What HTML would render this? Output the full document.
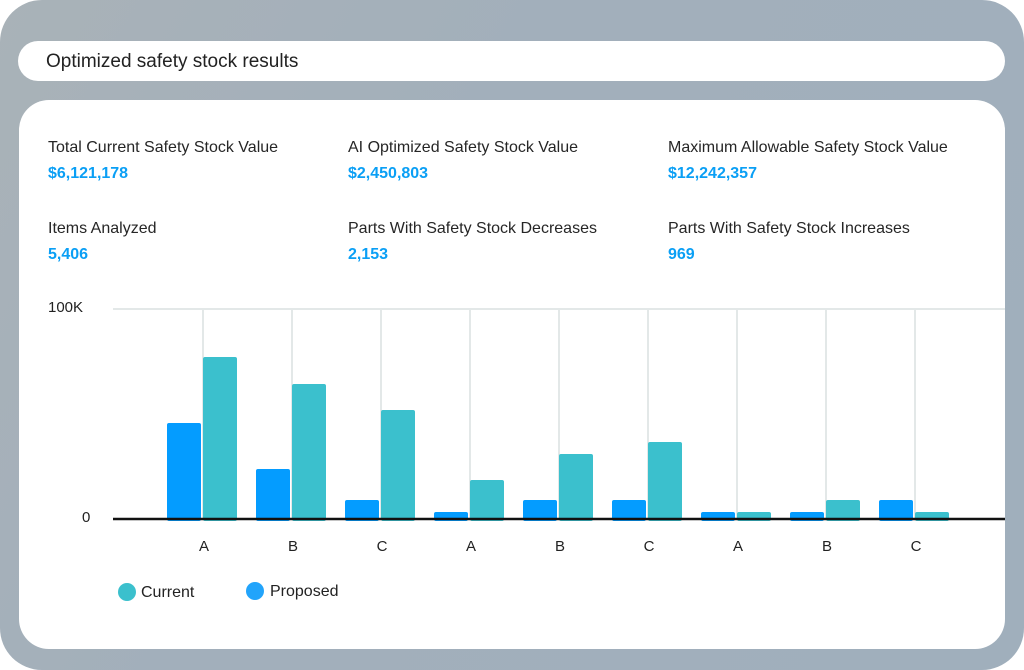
<!DOCTYPE html>
<html><head><meta charset="utf-8"><style>
html,body{margin:0;padding:0;width:1024px;height:670px;background:#fff;overflow:hidden;font-family:"Liberation Sans",sans-serif}
.frame{position:absolute;left:0;top:0;width:1024px;height:670px;border-radius:42px;background:linear-gradient(120deg,#a9b2b8 0%,#a2afbb 40%,#a0afbc 100%)}
.title{position:absolute;left:18px;top:41px;width:987px;height:40px;background:#fff;border-radius:20px}
.title span{position:absolute;left:28px;top:10px;font-size:19px;color:#222}
.panel{position:absolute;left:19px;top:100px;width:986px;height:549px;background:#fff;border-radius:30px}
.lab{position:absolute;font-size:16px;color:#262626}
.val{position:absolute;font-size:16px;font-weight:bold;color:#0a9ff5}
</style></head><body>
<div class="frame"></div>
<div class="title"><span>Optimized safety stock results</span></div>
<div class="panel"></div>
<div class="lab" style="left:48px;top:139px">Total Current Safety Stock Value</div>
<div class="val" style="left:48px;top:165px">$6,121,178</div>
<div class="lab" style="left:348px;top:139px">AI Optimized Safety Stock Value</div>
<div class="val" style="left:348px;top:165px">$2,450,803</div>
<div class="lab" style="left:668px;top:139px">Maximum Allowable Safety Stock Value</div>
<div class="val" style="left:668px;top:165px">$12,242,357</div>
<div class="lab" style="left:48px;top:220px">Items Analyzed</div>
<div class="val" style="left:48px;top:246px">5,406</div>
<div class="lab" style="left:348px;top:220px">Parts With Safety Stock Decreases</div>
<div class="val" style="left:348px;top:246px">2,153</div>
<div class="lab" style="left:668px;top:220px">Parts With Safety Stock Increases</div>
<div class="val" style="left:668px;top:246px">969</div>
<svg style="position:absolute;left:0;top:0" width="1024" height="670">
<g font-family="Liberation Sans, sans-serif" font-size="15" fill="#222">
<text x="48" y="312">100K</text><text x="82" y="522">0</text>
</g>
<line x1="113" y1="309" x2="1005" y2="309" stroke="#e3e8e8" stroke-width="2"/>
<g stroke="#e3e8e8" stroke-width="2">
<line x1="203" y1="309" x2="203" y2="518"/><line x1="292" y1="309" x2="292" y2="518"/><line x1="381" y1="309" x2="381" y2="518"/>
<line x1="470" y1="309" x2="470" y2="518"/><line x1="559" y1="309" x2="559" y2="518"/><line x1="648" y1="309" x2="648" y2="518"/>
<line x1="737" y1="309" x2="737" y2="518"/><line x1="826" y1="309" x2="826" y2="518"/><line x1="915" y1="309" x2="915" y2="518"/>
</g>
<g fill="#049cff">
<rect x="167" y="423" width="34" height="98" rx="2"/>
<rect x="256" y="469" width="34" height="52" rx="2"/>
<rect x="345" y="500" width="34" height="21" rx="2"/>
<rect x="434" y="512" width="34" height="9" rx="2"/>
<rect x="523" y="500" width="34" height="21" rx="2"/>
<rect x="612" y="500" width="34" height="21" rx="2"/>
<rect x="701" y="512" width="34" height="9" rx="2"/>
<rect x="790" y="512" width="34" height="9" rx="2"/>
<rect x="879" y="500" width="34" height="21" rx="2"/>
</g>
<g fill="#3bc0cd">
<rect x="203" y="357" width="34" height="164" rx="2"/>
<rect x="292" y="384" width="34" height="137" rx="2"/>
<rect x="381" y="410" width="34" height="111" rx="2"/>
<rect x="470" y="480" width="34" height="41" rx="2"/>
<rect x="559" y="454" width="34" height="67" rx="2"/>
<rect x="648" y="442" width="34" height="79" rx="2"/>
<rect x="737" y="512" width="34" height="9" rx="2"/>
<rect x="826" y="500" width="34" height="21" rx="2"/>
<rect x="915" y="512" width="34" height="9" rx="2"/>
</g>
<line x1="113" y1="519" x2="1005" y2="519" stroke="#111" stroke-width="2.5"/>
<g font-family="Liberation Sans, sans-serif" font-size="15" fill="#222" text-anchor="middle">
<text x="204" y="551">A</text><text x="293" y="551">B</text><text x="382" y="551">C</text>
<text x="471" y="551">A</text><text x="560" y="551">B</text><text x="649" y="551">C</text>
<text x="738" y="551">A</text><text x="827" y="551">B</text><text x="916" y="551">C</text>
</g>
<circle cx="127" cy="592" r="9" fill="#3bc0cd"/>
<circle cx="255" cy="591" r="9" fill="#22a4fb"/>
<g font-family="Liberation Sans, sans-serif" font-size="16" fill="#222">
<text x="141" y="597">Current</text><text x="270" y="596">Proposed</text>
</g>
</svg>
</body></html>
